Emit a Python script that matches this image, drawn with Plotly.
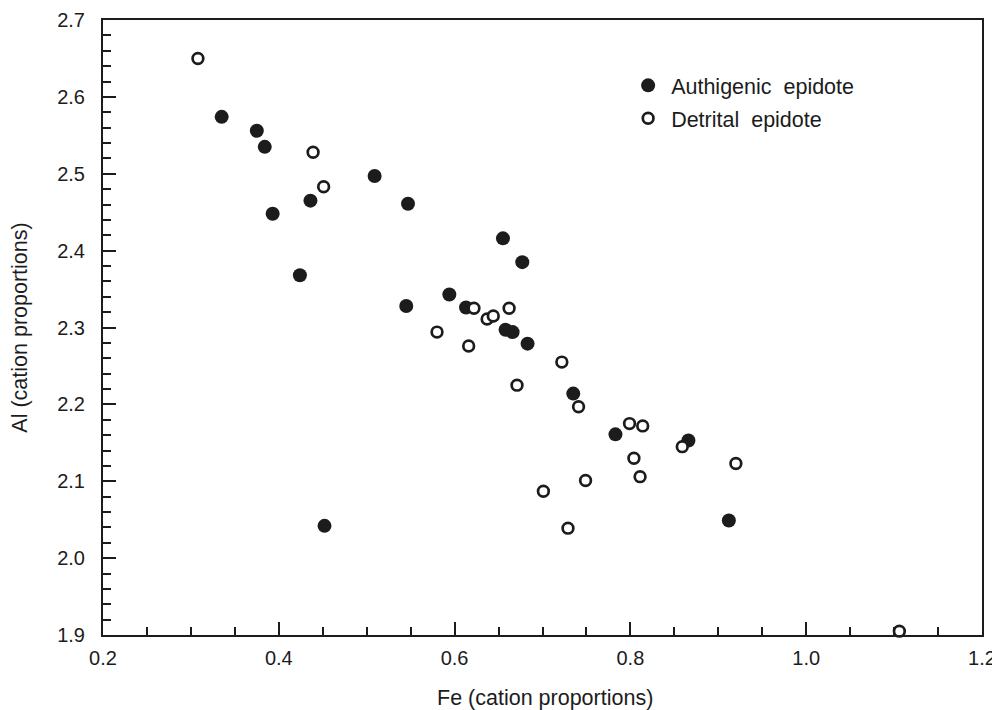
import plotly.graph_objects as go

# Fe and Al cation proportions
auth_fe = [0.335, 0.375, 0.384, 0.509, 0.436, 0.393, 0.547, 0.424, 0.655, 0.677, 0.594,
           0.545, 0.613, 0.658, 0.666, 0.683, 0.735, 0.783, 0.866, 0.912, 0.452]
auth_al = [2.574, 2.556, 2.535, 2.497, 2.465, 2.448, 2.461, 2.368, 2.416, 2.385, 2.343,
           2.328, 2.326, 2.297, 2.294, 2.279, 2.214, 2.161, 2.153, 2.049, 2.042]

detr_fe = [0.308, 0.439, 0.451, 0.622, 0.662, 0.637, 0.644, 0.580, 0.616, 0.722, 0.671,
           0.741, 0.799, 0.814, 0.859, 0.804, 0.811, 0.920, 0.749, 0.701, 0.729, 1.106]
detr_al = [2.650, 2.528, 2.483, 2.325, 2.325, 2.311, 2.315, 2.294, 2.276, 2.255, 2.225,
           2.197, 2.175, 2.172, 2.145, 2.130, 2.106, 2.123, 2.101, 2.087, 2.039, 1.905]

ink = "#1c1c1c"
font = "Liberation Sans, Arial, sans-serif"

fig = go.Figure()
fig.add_trace(go.Scatter(
    x=auth_fe, y=auth_al, mode="markers", name="Authigenic  epidote",
    legendgroup="a", cliponaxis=False,
    marker=dict(symbol="circle", size=14, color=ink, line=dict(width=0))))
fig.add_trace(go.Scatter(
    x=detr_fe, y=detr_al, mode="markers", name="Detrital  epidote",
    legendgroup="d", cliponaxis=False,
    marker=dict(symbol="circle", size=10.7, color="white", line=dict(width=2.7, color=ink))))

axis_common = dict(
    showline=True, linecolor=ink, linewidth=2, mirror=True,
    ticks="inside", tickcolor=ink, tickwidth=2, ticklen=13,
    showgrid=False, zeroline=False, automargin=False,
    tickfont=dict(size=20, color=ink, family=font),
)

fig.update_xaxes(
    range=[0.2, 1.2], dtick=0.2, tick0=0.2, tickformat=".1f",
    ticklabelstandoff=4,
    minor=dict(dtick=0.05, ticks="inside", ticklen=8, tickwidth=2, tickcolor=ink),
    **axis_common)
fig.update_yaxes(
    range=[1.9, 2.7], dtick=0.1, tick0=1.9, tickformat=".1f",
    ticklabelstandoff=12,
    minor=dict(dtick=0.02, ticks="inside", ticklen=8, tickwidth=2, tickcolor=ink),
    title=dict(text="Al (cation proportions)", font=dict(size=21.5, color=ink, family=font), standoff=24),
    **axis_common)

# x title placed by hand: standoff is ignored without automargin
fig.add_annotation(
    text="Fe (cation proportions)", xref="paper", yref="paper",
    x=0.503, y=-0.102, xanchor="center", yanchor="middle", showarrow=False,
    font=dict(size=21.5, color=ink, family=font))

# the page adds an 8px body margin, so the figure is sized to sit inside the window
fig.update_layout(
    width=992, height=702,
    margin=dict(l=95, r=18, t=12, b=75),
    paper_bgcolor="white", plot_bgcolor="white",
    font=dict(family=font, color=ink, size=20),
    legend=dict(x=0.594, y=0.927, xanchor="left", yanchor="top",
                bgcolor="rgba(0,0,0,0)", tracegroupgap=2, itemwidth=36,
                font=dict(size=21.5, color=ink, family=font)),
)

fig.write_html("out.html")
